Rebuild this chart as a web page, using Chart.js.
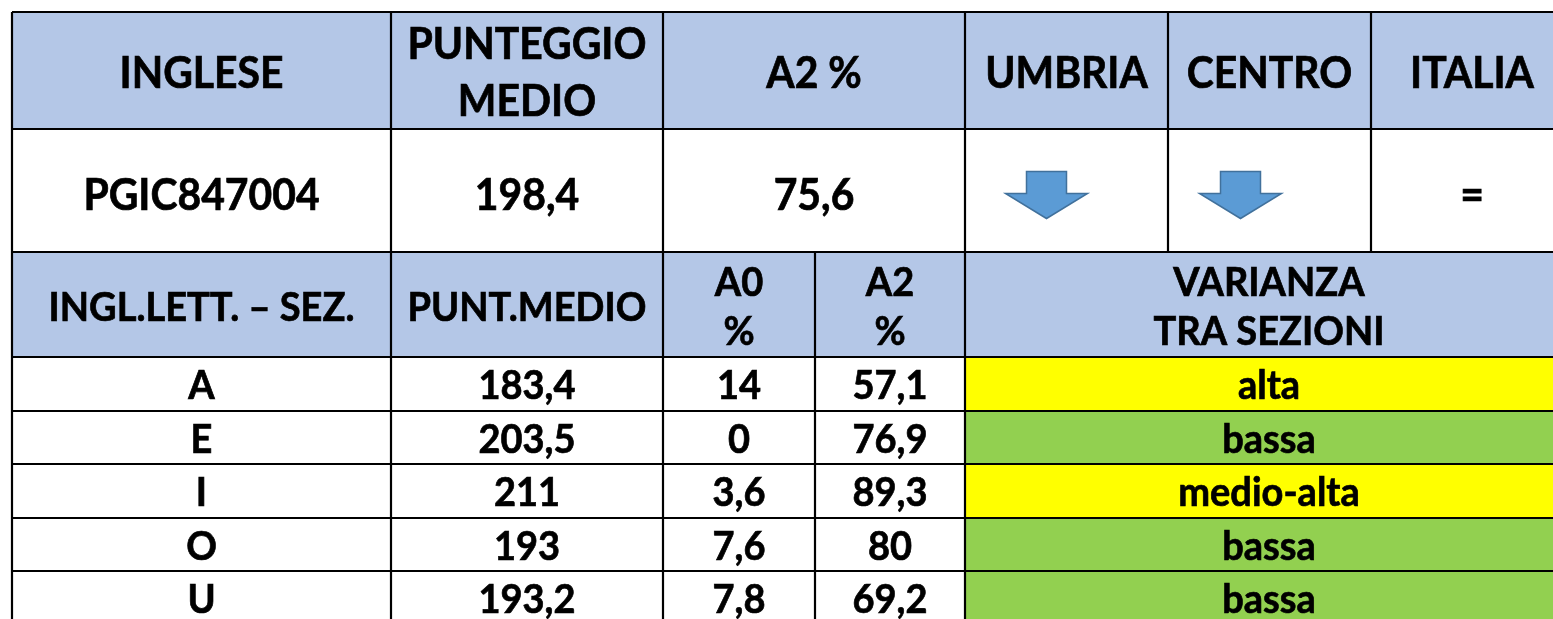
<!DOCTYPE html>
<html lang="it">
<head>
  <meta charset="UTF-8" />
  <title>Inglese - PGIC847004</title>
  <script src="https://cdn.jsdelivr.net/npm/chart.js"></script>
  <style>
    * { margin: 0; padding: 0; box-sizing: border-box; }
    body { background: #fff; }
    .wrap { width: 1553px; height: 619px; position: relative; }
  </style>
</head>
<body>
  <div class="wrap"><canvas id="table"></canvas></div>

  <script>
    // table content
    const topHeaders = ['INGLESE', 'PUNTEGGIO\nMEDIO', 'A2 %', 'UMBRIA', 'CENTRO', 'ITALIA'];
    const schoolCode = 'PGIC847004';
    const schoolScore = 198.4;
    const schoolA2 = 75.6;
    const trends = ['down', 'down', 'equal']; // Umbria, Centro, Italia

    const sectionHeaders = ['INGL.LETT. – SEZ.', 'PUNT.MEDIO', 'A0\n%', 'A2\n%', 'VARIANZA\nTRA SEZIONI'];
    const sections = ['A', 'E', 'I', 'O', 'U'];
    const meanScores = [183.4, 203.5, 211, 193, 193.2];
    const a0Pct = [14, 0, 3.6, 7.6, 7.8];
    const a2Pct = [57.1, 76.9, 89.3, 80, 69.2];
    const variance = ['alta', 'bassa', 'medio-alta', 'bassa', 'bassa'];

    // layout
    const colEdges = [12, 391, 663, 815, 965, 1168, 1371, 1573];
    const rowEdges = [12, 129, 252, 357, 411, 464, 518, 571, 625];
    const topSpans = [[0, 1], [1, 2], [2, 4], [4, 5], [5, 6], [6, 7]];
    const lowSpans = [[0, 1], [1, 2], [2, 3], [3, 4], [4, 7]];
    const arrowShift = [-20, -29, 0];
    const headerBlue = '#B4C7E7';
    const varianceColors = { 'alta': '#FFFF00', 'medio-alta': '#FFFF00', 'bassa': '#92D050' };

    const fmt = v => String(v).replace('.', ',');

    const tablePlugin = {
      id: 'tablePlugin',
      afterDraw(chart) {
        const c = chart.ctx;
        const xs = chart.scales.x, ys = chart.scales.y;
        const px = v => xs.getPixelForValue(v);
        const py = v => ys.getPixelForValue(v);

        function fillCell(c0, c1, r0, r1, color) {
          c.fillStyle = color;
          c.fillRect(px(colEdges[c0]), py(rowEdges[r0]),
            px(colEdges[c1]) - px(colEdges[c0]), py(rowEdges[r1]) - py(rowEdges[r0]));
        }

        // Lato is a bit wider than the Calibri of the original, so squeeze it a little
        function text(str, c0, c1, r0, r1, size, gap, dy) {
          const lines = str.split('\n');
          const cx = (px(colEdges[c0]) + px(colEdges[c1])) / 2;
          const cy = (py(rowEdges[r0]) + py(rowEdges[r1])) / 2 + (dy || 0);
          const cap = size * 0.358;
          c.save();
          c.font = 'bold ' + size + 'px Lato, "Open Sans", sans-serif';
          c.fillStyle = '#000';
          c.strokeStyle = '#000';
          c.lineWidth = 0.7;
          c.textAlign = 'center';
          c.textBaseline = 'alphabetic';
          c.translate(cx, 0);
          c.scale(0.95, 1);
          lines.forEach((ln, i) => {
            const y = cy + (i - (lines.length - 1) / 2) * gap + cap;
            c.fillText(ln, 0, y);
            c.strokeText(ln, 0, y);
          });
          c.restore();
        }

        function arrowDown(cx, cy) {
          const sw = 20, hw = 41, top = -24, neck = -2, tip = 23;
          c.beginPath();
          c.moveTo(cx - sw, cy + top);
          c.lineTo(cx + sw, cy + top);
          c.lineTo(cx + sw, cy + neck);
          c.lineTo(cx + hw, cy + neck);
          c.lineTo(cx, cy + tip);
          c.lineTo(cx - hw, cy + neck);
          c.lineTo(cx - sw, cy + neck);
          c.closePath();
          c.fillStyle = '#5B9BD5';
          c.fill();
          c.lineWidth = 1.5;
          c.strokeStyle = '#41719C';
          c.stroke();
        }

        c.save();
        // backgrounds
        fillCell(0, 7, 0, 1, headerBlue);
        fillCell(0, 7, 2, 3, headerBlue);
        variance.forEach((v, i) => fillCell(4, 7, 3 + i, 4 + i, varianceColors[v]));

        // top block
        topHeaders.forEach((h, i) => text(h, topSpans[i][0], topSpans[i][1], 0, 1, 43, 57, 2));
        text(schoolCode, 0, 1, 1, 2, 43, 0, 4);
        text(fmt(schoolScore), 1, 2, 1, 2, 43, 0, 4);
        text(fmt(schoolA2), 2, 4, 1, 2, 43, 0, 4);
        trends.forEach((t, i) => {
          const c0 = 4 + i;
          const cx = (px(colEdges[c0]) + px(colEdges[c0 + 1])) / 2;
          const cy = (py(rowEdges[1]) + py(rowEdges[2])) / 2 + 5;
          if (t === 'down') arrowDown(cx + arrowShift[i], cy);
          else text('=', c0, c0 + 1, 1, 2, 43, 0, 4);
        });

        // sections block
        sectionHeaders.forEach((h, i) => text(h, lowSpans[i][0], lowSpans[i][1], 2, 3, 40, 49, 2));
        sections.forEach((s, i) => {
          const r = 3 + i;
          text(s, 0, 1, r, r + 1, 40, 0, 1);
          text(fmt(meanScores[i]), 1, 2, r, r + 1, 40, 0, 1);
          text(fmt(a0Pct[i]), 2, 3, r, r + 1, 40, 0, 1);
          text(fmt(a2Pct[i]), 3, 4, r, r + 1, 40, 0, 1);
          text(variance[i], 4, 7, r, r + 1, 40, 0, 1);
        });

        // grid lines
        c.strokeStyle = '#000';
        c.lineWidth = 2.2;
        c.beginPath();
        rowEdges.slice(0, 8).forEach(y => {
          c.moveTo(px(colEdges[0]), py(y));
          c.lineTo(px(colEdges[7]), py(y));
        });
        const vLines = [[0, 0, 8], [1, 0, 8], [2, 0, 8], [3, 2, 8], [4, 0, 8], [5, 0, 2], [6, 0, 2]];
        vLines.forEach(([ci, r0, r1]) => {
          c.moveTo(px(colEdges[ci]), py(rowEdges[r0]));
          c.lineTo(px(colEdges[ci]), py(rowEdges[r1]));
        });
        c.stroke();
        c.restore();
      }
    };

    new Chart(document.getElementById('table'), {
      type: 'scatter',
      data: { datasets: [{ data: [], pointRadius: 0 }] },
      options: {
        responsive: true,
        maintainAspectRatio: false,
        devicePixelRatio: 1,
        animation: false,
        layout: { padding: 0 },
        plugins: { legend: { display: false }, tooltip: { enabled: false } },
        scales: {
          x: { type: 'linear', min: 0, max: 1553, display: false },
          y: { type: 'linear', min: 0, max: 619, reverse: true, display: false }
        }
      },
      plugins: [tablePlugin]
    });
  </script>
</body>
</html>
